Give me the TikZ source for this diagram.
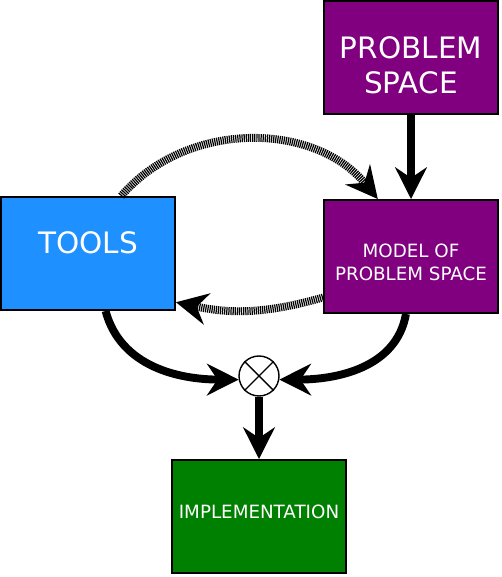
\documentclass[tikz,border=0pt]{standalone}
\usepackage{fontspec}
\setmainfont{DejaVu Sans}
\usetikzlibrary{arrows.meta}
\definecolor{plum}{HTML}{800080}
\definecolor{sky}{HTML}{1E90FF}
\definecolor{leaf}{HTML}{008000}

\begin{document}
\begin{tikzpicture}[x=0.02cm,y=0.02cm,
  font=\fontsize{10.4}{13}\selectfont, text=white,
  box/.style={draw=black,line width=1.1pt,minimum width=3.48cm,minimum height=2.26cm,inner sep=0pt},
  txt/.style={align=center,text=white},
  big/.style={font=\fontsize{16.8}{19.8}\selectfont},
  flow/.style={-{Stealth[length=18pt,width=18pt,inset=6pt]},line width=4.5pt},
  hatched/.style={flow,dash pattern=on 0.7pt off 0.5pt},
]
\useasboundingbox (0,0) rectangle (501,577);

\node[box,fill=plum,label={[txt,big,yshift=-4.3pt]center:{PROBLEM\\SPACE}}] (problem) at (411,519.5) {};
\node[box,fill=plum,label={[txt,yshift=-3.1pt]center:{MODEL OF\\PROBLEM SPACE}}] (model) at (411,320.5) {};
\node[box,fill=sky,label={[txt,big,yshift=6pt]center:TOOLS}] (tools) at (88,323.5) {};
\node[box,fill=leaf,label={[txt,yshift=2.8pt]center:IMPLEMENTATION}] (impl) at (259,60.5) {};
\node[draw,circle,fill=white,line width=0.8pt,minimum size=0.8cm] (mix) at (259,201) {};
\draw[line width=0.8pt] (mix.45) -- (mix.225) (mix.135) -- (mix.315);

\draw[flow] (problem) -- (model);
\draw[flow] (mix) -- (impl);
\draw[hatched] (tools.60) to[bend left=50] (model.120);
\draw[hatched] (model.205) to[bend left=14] (tools.331);
\draw[flow] (tools.287) to[out=-75,in=180] (mix.190);
\draw[flow] (model.265) to[out=-100,in=0] (mix.-10);
\end{tikzpicture}
\end{document}
